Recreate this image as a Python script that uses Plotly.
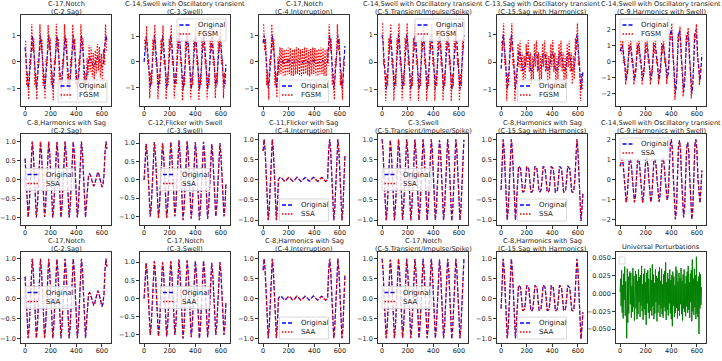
import plotly.graph_objects as go

# sample index of the 640-sample window (every 8th sample)
t = list(range(0, 640, 8)) + [639]
# FGSM samples sit half-way between them
t_fgsm = list(range(4, 640, 8))
t_univ = list(range(0, 640, 4))

# original signals, one per column (true class)
orig_sag = [
    0.55, 0, -0.71, -1.0, -0.71, 0, 0.71, 1.0,
    0.71, 0, -0.71, -1.0, -0.71, 0, 0.71, 1.0,
    0.7, 0, -0.7, -0.99, -0.7, 0, 0.71, 1.0,
    0.71, 0, -0.71, -1.0, -0.71, 0, 0.7, 0.99,
    0.71, 0, -0.71, -1.0, -0.71, 0, 0.71, 1.0,
    0.7, 0, -0.71, -1.0, -0.71, 0, 0.71, 1.0,
    0.71, 0, -0.71, -1.0, -0.71, 0, 0.71, 1.0,
    0.71, 0, -0.71, -1.0, -0.6, -0.1, 0.12, 0.15,
    0.1, 0, -0.12, -0.18, -0.12, 0, 0.14, 0.2,
    0.14, 0, -0.15, -0.2, -0.14, 0.1, 0.71, 1.0,
    0.8]
orig_swell = [
    0, 0.7, 0.98, 0.7, 0, -0.71, -1.0, -0.71,
    0, 0.73, 1.03, 0.73, 0, -0.74, -1.04, -0.74,
    0, 0.71, 1.0, 0.71, 0, -0.74, -1.04, -0.74,
    0, 0.73, 1.03, 0.73, 0, -0.71, -1.0, -0.71,
    0, 0.76, 1.07, 0.76, 0, -0.78, -1.1, -0.78,
    0, 0.74, 1.05, 0.74, 0, -0.75, -1.06, -0.75,
    0, 0.73, 1.03, 0.73, 0, -0.78, -1.1, -0.78,
    0, 0.74, 1.04, 0.74, 0, -0.75, -1.06, -0.75,
    0, 0.69, 0.98, 0.69, 0, -0.71, -1.0, -0.71,
    0, 0.71, 1.0, 0.71, 0, -0.71, -1.0, -0.71,
    -0.1]
orig_interruption = [
    0.71, 1.0, 0.71, 0, -0.71, -1.0, -0.71, 0,
    0.71, 1.0, 0.71, 0, -0.71, -1.0, -0.6, 0.0,
    0.045, 0.06, 0.045, 0.01, -0.025, -0.04, -0.025, 0.01,
    0.04, 0.055, 0.045, 0.015, -0.02, -0.04, -0.03, 0.005,
    0.045, 0.06, 0.04, 0.01, -0.025, -0.045, -0.025, 0.01,
    0.045, 0.055, 0.045, 0.01, -0.02, -0.04, -0.025, 0.01,
    0.04, 0.06, 0.045, 0.015, -0.025, -0.04, -0.03, 0.005,
    0.045, 0.055, 0.04, 0.01, -0.025, -0.045, -0.025, 0.0,
    0.71, 1.0, 0.71, 0, -0.71, -1.0, -0.71, 0,
    0.71, 1.0, 0.71, 0, -0.71, -1.0, -0.71, 0,
    0.6]
orig_transient = [
    1.0, 0.71, 0, -0.71, -1.0, -0.71, 0, 0.71,
    0.98, 0.7, 0, -0.71, -1.0, -0.71, 0, 0.7,
    1.0, 0.71, 0, -0.7, -0.99, -0.7, 0, 0.71,
    1.0, 0.71, 0, -0.71, -1.0, -0.71, 0, 0.71,
    0.99, 0.7, 0, -0.71, -1.0, -0.71, 0, 0.71,
    1.0, 0.71, 0, -0.71, -1.0, -0.71, 0, 0.71,
    1.0, 0.71, 0, -0.71, -1.0, -0.71, 0, 0.71,
    0.98, 0.7, 0, -0.71, -1.0, -0.71, 0, 0.71,
    1.0, 0.71, 0, -0.71, -1.02, -0.72, 0, 0.71,
    1.0, 0.71, 0, -0.71, -1.0, -0.71, 0, 0.71,
    0.99]
orig_sag_harm = [
    -0.25, 0.71, 1.0, 0.71, 0, -0.71, -1.0, -0.71,
    0, 0.71, 1.0, 0.71, 0, -0.71, -1.0, -0.6,
    0.0, 0.33, 0.31, 0.27, 0.0, -0.3, -0.3, -0.26,
    0.0, 0.32, 0.31, 0.26, 0.0, -0.3, -0.31, -0.26,
    0.0, 0.33, 0.3, 0.27, 0.0, -0.29, -0.3, -0.25,
    0.0, 0.33, 0.31, 0.27, 0.0, -0.3, -0.3, -0.26,
    0.0, 0.32, 0.31, 0.26, 0.0, -0.31, -0.3, -0.26,
    0.0, 0.33, 0.31, 0.27, 0.0, -0.3, -0.3, -0.25,
    0.0, 0.33, 0.3, 0.27, 0.0, -0.3, -0.31, -0.26,
    0, 0.71, 1.0, 0.71, 0, -0.71, -1.02, -0.71,
    -0.35]
orig_harm_swell = [
    0.65, 0.95, 1.05, 0.75, 0.05, -0.75, -1.15, -0.8,
    0.45, 0.95, 1.02, 0.73, 0.05, -0.75, -1.15, -0.8,
    0.45, 0.93, 1.03, 0.75, 0.05, -0.76, -1.16, -0.8,
    0.45, 0.97, 1.06, 0.75, 0.05, -0.75, -1.14, -0.8,
    0.45, 0.95, 1.02, 0.74, 0.05, -0.74, -1.12, -0.78,
    0.45, 0.97, 1.08, 0.75, 0.05, -0.72, -1.06, -0.75,
    0.8, 1.7, 2.0, 1.5, 0.1, -1.5, -2.0, -1.5,
    0.8, 1.65, 1.95, 1.45, 0.1, -1.45, -1.9, -1.4,
    0.75, 1.6, 1.85, 1.4, 0.1, -1.5, -2.0, -1.5,
    0.8, 1.7, 2.0, 1.45, 0.05, -0.75, -1.18, -0.4,
    0.45]

# FGSM adversarial versions (row 1), sampled on t_fgsm
fgsm_sag = [
    0.8, -0.88, -0.42, -1.42, 0.12, -0.12, 1.42, 0.42,
    0.88, -0.88, -0.42, -1.42, 0.12, -0.12, 1.42, 0.42,
    0.86, -0.9, -0.45, -1.4, 0.1, -0.15, 1.4, 0.44,
    0.9, -0.86, -0.4, -1.44, 0.14, -0.1, 1.44, 0.4,
    0.88, -0.88, -0.42, -1.42, 0.12, -0.12, 1.42, 0.42,
    0.87, -0.89, -0.43, -1.41, 0.11, -0.13, 1.41, 0.43,
    0.88, -0.88, -0.42, -1.42, 0.12, -0.12, 1.42, 0.42,
    0.88, -0.88, -0.42, -1.35, 0.15, -0.49, 0.64, -0.37,
    0.55, -0.56, 0.34, -0.66, 0.44, -0.43, 0.68, -0.32,
    0.57, -0.58, 0.31, -0.68, 0.48, -0.1, 1.42, 0.42]
fgsm_swell = [
    0.87, 0.4, 1.4, -0.13, 0.12, -1.42, -0.42, -0.88,
    0.89, 0.45, 1.45, -0.11, 0.1, -1.46, -0.46, -0.9,
    0.88, 0.42, 1.42, -0.12, 0.1, -1.46, -0.46, -0.9,
    0.89, 0.45, 1.45, -0.11, 0.12, -1.42, -0.42, -0.88,
    0.91, 0.48, 1.48, -0.09, 0.08, -1.51, -0.51, -0.92,
    0.9, 0.47, 1.47, -0.1, 0.1, -1.47, -0.47, -0.9,
    0.89, 0.45, 1.45, -0.11, 0.08, -1.51, -0.51, -0.92,
    0.9, 0.46, 1.46, -0.1, 0.1, -1.47, -0.47, -0.9,
    0.87, 0.4, 1.4, -0.13, 0.12, -1.42, -0.42, -0.88,
    0.88, 0.42, 1.42, -0.12, 0.12, -1.42, -0.42, -0.88]
fgsm_interruption = [
    1.42, 0.42, 0.88, -0.88, -0.42, -1.42, 0.12, -0.12,
    1.42, 0.42, 0.88, -0.88, -0.42, -1.35, 0.2, -0.48,
    0.55, -0.45, 0.53, -0.51, 0.465, -0.535, 0.49, -0.47,
    0.545, -0.455, 0.535, -0.505, 0.47, -0.53, 0.485, -0.475,
    0.55, -0.45, 0.53, -0.51, 0.465, -0.535, 0.49, -0.47,
    0.555, -0.445, 0.525, -0.51, 0.46, -0.54, 0.49, -0.465,
    0.55, -0.45, 0.53, -0.51, 0.465, -0.535, 0.49, -0.47,
    0.545, -0.45, 0.53, -0.515, 0.465, -0.535, 0.49, -0.15,
    1.42, 0.42, 0.88, -0.88, -0.42, -1.42, 0.12, -0.12,
    1.42, 0.42, 0.88, -0.88, -0.42, -1.42, 0.12, -0.15]
fgsm_transient = [
    1.42, -0.12, 0.12, -1.42, -0.42, -0.88, 0.88, 0.42,
    1.4, -0.13, 0.12, -1.42, -0.42, -0.88, 0.88, 0.41,
    1.42, -0.12, 0.13, -1.41, -0.41, -0.87, 0.88, 0.42,
    1.42, -0.12, 0.12, -1.42, -0.42, -0.88, 0.88, 0.42,
    1.41, -0.13, 0.12, -1.42, -0.42, -0.88, 0.88, 0.42,
    1.42, -0.12, 0.12, -1.42, -0.42, -0.88, 0.88, 0.42,
    1.42, -0.12, 0.12, -1.42, -0.42, -0.88, 0.88, 0.42,
    1.4, -0.13, 0.12, -1.42, -0.42, -0.88, 0.88, 0.42,
    1.42, -0.12, 0.12, -1.43, -0.44, -0.89, 0.88, 0.42,
    1.42, -0.12, 0.12, -1.42, -0.42, -0.88, 0.88, 0.42]
fgsm_sag_harm = [
    0.75, 0.42, 1.42, -0.12, 0.12, -1.42, -0.42, -0.88,
    0.88, 0.42, 1.42, -0.12, 0.12, -1.42, -0.35, -0.8,
    0.67, -0.18, 0.79, -0.36, 0.35, -0.8, 0.22, -0.63,
    0.66, -0.19, 0.8, -0.37, 0.35, -0.81, 0.21, -0.63,
    0.67, -0.18, 0.79, -0.36, 0.36, -0.8, 0.22, -0.62,
    0.67, -0.18, 0.79, -0.36, 0.35, -0.8, 0.22, -0.63,
    0.66, -0.19, 0.8, -0.37, 0.34, -0.8, 0.22, -0.63,
    0.67, -0.18, 0.79, -0.36, 0.35, -0.8, 0.23, -0.62,
    0.67, -0.18, 0.78, -0.36, 0.35, -0.81, 0.22, -0.63,
    0.88, 0.42, 1.42, -0.12, 0.12, -1.43, -0.43, -1.0]
fgsm_harm_swell = [
    1.3, 0.5, 1.4, -0.1, 0.15, -1.45, -0.48, -0.68,
    1.2, 0.48, 1.38, -0.12, 0.15, -1.45, -0.48, -0.68,
    1.19, 0.47, 1.39, -0.1, 0.14, -1.46, -0.49, -0.68,
    1.21, 0.51, 1.42, -0.1, 0.15, -1.45, -0.47, -0.68,
    1.2, 0.48, 1.38, -0.11, 0.16, -1.43, -0.46, -0.66,
    1.21, 0.52, 1.45, -0.1, 0.17, -1.4, -0.41, -0.48,
    1.75, 1.35, 2.4, 0.3, -0.2, -2.4, -1.25, -0.85,
    1.72, 1.3, 2.2, 0.27, -0.18, -2.2, -1.2, -0.82,
    1.68, 1.22, 2.12, 0.25, -0.2, -2.3, -1.25, -0.85,
    1.75, 1.35, 2.35, 0.25, 0.15, -1.47, -0.3, -0.48]

# universal perturbation (row 3, last column)
universal = [
    0.002, 0.021, -0.018, 0.033, -0.027, 0.012, -0.035, 0.028, -0.009, 0.038,
    -0.031, 0.017, -0.022, -0.063, 0.035, -0.041, 0.024, -0.028, 0.019, 0.031,
    -0.015, 0.029, -0.034, 0.011, -0.026, 0.036, -0.019, 0.025, -0.038, 0.014,
    0.032, -0.021, 0.027, -0.036, 0.018, -0.029, 0.034, -0.012, 0.023, -0.033,
    0.026, -0.017, 0.039, -0.025, 0.013, -0.037, 0.028, -0.022, 0.035, -0.03,
    0.016, -0.044, 0.029, -0.014, 0.033, -0.027, 0.021, -0.035, 0.011, 0.036,
    -0.024, 0.019, -0.031, 0.041, -0.018, 0.027, -0.036, 0.015, -0.028, 0.034,
    -0.012, 0.025, -0.039, 0.022, -0.027, 0.031, -0.016, 0.037, -0.033, 0.018,
    -0.021, 0.035, -0.029, 0.013, -0.034, 0.027, -0.019, 0.032, -0.025, 0.044,
    -0.037, 0.016, -0.023, 0.029, -0.031, 0.021, -0.014, 0.034, -0.028, 0.019,
    -0.036, 0.026, -0.046, 0.031, -0.017, 0.024, -0.033, 0.012, -0.027, 0.038,
    -0.02, 0.033, -0.035, 0.017, -0.024, 0.029, -0.031, 0.022, -0.015, 0.036,
    -0.029, 0.018, -0.038, 0.027, -0.021, 0.034, -0.026, 0.014, -0.032, 0.025,
    -0.018, 0.031, -0.027, 0.039, -0.023, 0.016, -0.034, 0.028, -0.012, 0.033,
    -0.039, 0.048, -0.025, 0.021, -0.03, 0.035, -0.019, 0.026, -0.036, 0.052,
    -0.028, 0.017, -0.033, 0.024, -0.057, 0.03, -0.021, 0.027, -0.016, 0.009]

titles = [
    "C-17,Notch<br>(C-2,Sag)",
    "C-14,Swell with Oscillatory transient<br>(C-3,Swell)",
    "C-17,Notch<br>(C-4,Interruption)",
    "C-14,Swell with Oscillatory transient<br>(C-5,Transient/Impulse/Spike)",
    "C-13,Sag with Oscillatory transient<br>(C-15,Sag with Harmonics)",
    "C-14,Swell with Oscillatory transient<br>(C-9,Harmonics with Swell)",
    "C-8,Harmonics with Sag<br>(C-2,Sag)",
    "C-12,Flicker with Swell<br>(C-3,Swell)",
    "C-11,Flicker with Sag<br>(C-4,Interruption)",
    "C-3,Swell<br>(C-5,Transient/Impulse/Spike)",
    "C-8,Harmonics with Sag<br>(C-15,Sag with Harmonics)",
    "C-14,Swell with Oscillatory transient<br>(C-9,Harmonics with Swell)",
    "C-17,Notch<br>(C-2,Sag)",
    "C-17,Notch<br>(C-3,Swell)",
    "C-8,Harmonics with Sag<br>(C-4,Interruption)",
    "C-17,Notch<br>(C-5,Transient/Impulse/Spike)",
    "C-8,Harmonics with Sag<br>(C-15,Sag with Harmonics)",
    "Universal Perturbations",
]

originals = [orig_sag, orig_swell, orig_interruption,
             orig_transient, orig_sag_harm, orig_harm_swell]
fgsm = [fgsm_sag, fgsm_swell, fgsm_interruption,
        fgsm_transient, fgsm_sag_harm, fgsm_harm_swell]
adv_names = ["FGSM", "SSA", "SAA"]

for s in originals:
    assert len(s) == len(t)
for s in fgsm:
    assert len(s) == len(t_fgsm)
assert len(universal) == len(t_univ)

yranges = [
    [[-1.66, 1.77], [-1.72, 1.83], [-1.66, 1.77], [-1.61, 1.72], [-1.61, 1.72], [-2.78, 2.92]],
    [[-1.2, 1.2], [-1.23, 1.25], [-1.12, 1.13], [-1.12, 1.13], [-1.12, 1.13], [-2.28, 2.27]],
    [[-1.12, 1.17], [-1.22, 1.28], [-1.12, 1.17], [-1.12, 1.17], [-1.12, 1.17], [-0.0696, 0.0586]],
]
legend_loc = [
    ["lr", "ur", "lc", "ur", "lc", "ul"],
    ["cl", "c", "lc", "cl", "lc", "ul"],
    ["cl", "c", "lc", "cl", "lc", None],
]

W, H = 722, 361
row_top = [15, 134, 252]
ph = 91
pw = 90

fig = go.Figure()
shapes = []
annotations = []


def ax_id(n):
    return "" if n == 1 else str(n)


def add_legend(n, loc, label):
    xr, yr = "x%s domain" % ax_id(n), "y%s domain" % ax_id(n)
    w, h = 49 / pw, 22 / ph
    px, py = 4 / pw, 4 / ph
    horiz = loc[1] if len(loc) == 2 else "c"
    x0 = {"l": px, "r": 1 - px - w, "c": 0.5 - w / 2}[horiz]
    y0 = {"l": py, "u": 1 - py - h, "c": 0.5 - h / 2}[loc[0]]
    shapes.append(dict(type="rect", xref=xr, yref=yr, x0=x0, x1=x0 + w, y0=y0, y1=y0 + h,
                       fillcolor="rgba(255,255,255,0.8)", line=dict(color="#d0d0d0", width=0.8)))
    for i, (col, dash, txt) in enumerate([("blue", "4px,2px", "Original"),
                                          ("red", "1.5px,1.5px", label)]):
        yy = y0 + h - (6 + 9 * i) / ph
        shapes.append(dict(type="line", xref=xr, yref=yr, x0=x0 + 2.5 / pw, x1=x0 + 14.5 / pw,
                           y0=yy, y1=yy, line=dict(color=col, width=1.3, dash=dash)))
        annotations.append(dict(xref=xr, yref=yr, x=x0 + 19 / pw, y=yy, text=txt,
                                showarrow=False, xanchor="left", yanchor="middle",
                                font=dict(size=7, color="#222")))


for r in range(3):
    for c in range(6):
        n = r * 6 + c + 1
        x0 = (21 + 119 * c) / W
        x1 = (21 + 119 * c + pw) / W
        y1 = 1 - row_top[r] / H
        y0 = 1 - (row_top[r] + ph) / H
        xa, ya = "x" + ax_id(n), "y" + ax_id(n)
        if r == 2 and c == 5:
            fig.add_trace(go.Scatter(x=t_univ, y=universal, mode="lines", xaxis=xa, yaxis=ya,
                                     line=dict(color="green", width=1), showlegend=False))
            dtick, fmt = 0.025, ".3f"
            shapes.append(dict(type="rect", xref=xa + " domain", yref=ya + " domain",
                               x0=3 / pw, x1=9 / pw, y0=1 - 12 / ph, y1=1 - 5 / ph,
                               fillcolor="white", line=dict(color="#d0d0d0", width=0.8)))
        else:
            if r == 0:
                adv_x, adv_y = t_fgsm, fgsm[c]
            else:
                adv_x, adv_y = t, originals[c]
            fig.add_trace(go.Scatter(x=t, y=originals[c], mode="lines", xaxis=xa, yaxis=ya,
                                     line=dict(color="blue", width=1.2, dash="4px,2px"),
                                     showlegend=False))
            fig.add_trace(go.Scatter(x=adv_x, y=adv_y, mode="lines", xaxis=xa, yaxis=ya,
                                     line=dict(color="red", width=1.2, dash="1.5px,1.5px"),
                                     showlegend=False))
            if c == 5 or r == 0:
                dtick, fmt = 1, "d"
            else:
                dtick, fmt = 0.5, ".1f"
            add_legend(n, legend_loc[r][c], adv_names[r])
        axis_style = dict(showgrid=False, zeroline=False, showline=True, linecolor="#333",
                          linewidth=0.8, mirror=True, ticks="outside", ticklen=3,
                          tickwidth=0.8, tickcolor="#333",
                          tickfont=dict(size=6.5, color="#222"))
        fig.layout["xaxis" + ax_id(n)] = dict(domain=[x0, x1], anchor=ya, range=[-32, 671],
                                              tickvals=[0, 200, 400, 600],
                                              ticklabelstandoff=-2, **axis_style)
        fig.layout["yaxis" + ax_id(n)] = dict(domain=[y0, y1], anchor=xa, range=yranges[r][c],
                                              dtick=dtick, tick0=0, tickformat=fmt, **axis_style)
        # title lines placed one by one (tighter spacing than <br>)
        lines = titles[n - 1].split("<br>")
        shifts = [11, 3.3] if len(lines) == 2 else [5.3]
        for line, sh in zip(lines, shifts):
            annotations.append(dict(xref=xa + " domain", yref=ya + " domain", x=0.5, y=1,
                                    yshift=sh, text=line, showarrow=False,
                                    xanchor="center", yanchor="middle",
                                    font=dict(size=6.6, color="#222")))

fig.update_layout(
    width=W, height=H,
    margin=dict(l=0, r=0, t=0, b=0),
    paper_bgcolor="white", plot_bgcolor="white",
    font=dict(family="DejaVu Sans", size=7, color="#222"),
    showlegend=False,
    shapes=shapes,
    annotations=annotations,
)

fig.write_html("out.html", config={"displayModeBar": False},
               post_script="document.body.style.margin='0px';")
